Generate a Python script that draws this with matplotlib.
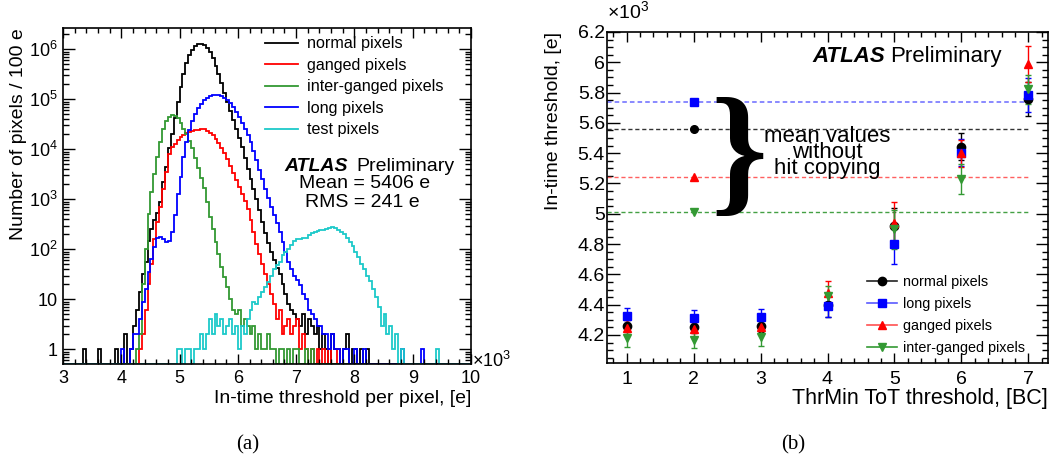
import matplotlib
matplotlib.use("Agg")
import matplotlib.pyplot as plt
import numpy as np
from matplotlib.ticker import MultipleLocator, LogLocator, NullFormatter, FuncFormatter
from matplotlib.lines import Line2D

plt.rcParams['font.family'] = ['Liberation Sans', 'DejaVu Sans']
plt.rcParams['mathtext.default'] = 'regular'

# ---------------- panel (a): threshold distributions, 50 e bins from 3000 to 10000 e
bin_lo, bin_hi, bin_w = 3000, 10000, 50
# one row = 1000 e = 20 bins
normal_counts = (
    [0, 0, 0, 0, 0, 0, 0, 1, 0, 0, 0, 0, 1, 0, 0, 0, 0, 0, 1, 0]
    + [0, 2, 0, 1, 3, 6, 14, 32, 56, 148, 250, 380, 525, 890, 2240, 4470, 10500, 20000, 41700, 89000]
    + [178000, 316000, 525000, 759000, 977000, 1150000, 1260000, 1280000, 1200000, 1070000,
       871000, 661000, 468000, 316000, 209000, 132000, 89000, 59000, 38000, 25100]
    + [16600, 11200, 6600, 3980, 2510, 1580, 1000, 600, 355, 214, 132, 89, 60, 42, 32, 20, 13, 8, 6, 5]
    + [4, 3, 5, 2, 4, 3, 2, 3, 1, 2, 1, 0, 2, 1, 1, 0, 1, 2, 0, 1]
    + [1, 0, 1, 0, 1, 0, 0, 0, 0, 0, 0, 0, 0, 0, 0, 0, 0, 0, 0, 0]
    + [0] * 20
)
ganged_counts = (
    [0] * 20
    + [0, 0, 0, 0, 0, 0, 1, 2, 6, 20, 52, 160, 355, 710, 1580, 3550, 7940, 11200, 12600, 15100]
    + [17800, 19500, 20900, 21900, 22900, 24000, 24500, 25100, 25100, 23400,
       21400, 19000, 16200, 13200, 10500, 8300, 6300, 4700, 3400, 2450]
    + [1740, 1260, 930, 630, 380, 224, 126, 80, 50, 32, 20, 13, 8, 4, 6, 2, 3, 4, 2, 3]
    + [4, 1, 2, 1, 0, 1, 0, 1, 0, 1, 0, 1, 0, 0, 1, 0, 0, 0, 0, 0]
    + [0] * 20
    + [0] * 20
)
inter_counts = (
    [0] * 20
    + [0, 0, 0, 0, 0, 1, 2, 20, 100, 500, 1410, 3160, 7080, 14100, 25100, 37200, 44700, 47900, 46800, 41700]
    + [33100, 25100, 20000, 14800, 10500, 6600, 4170, 2630, 1660, 890, 447, 251, 141, 79, 45, 28, 18, 10, 6, 5]
    + [6, 3, 4, 3, 2, 3, 1, 2, 1, 1, 2, 1, 1, 0, 1, 1, 0, 1, 0, 1]
    + [1, 0, 0, 1, 0, 1, 0, 0, 0, 0, 0, 0, 0, 0, 0, 0, 0, 0, 0, 0]
    + [0] * 20
    + [0] * 20
)
long_counts = (
    [0] * 20
    + [1, 0, 0, 1, 2, 2, 4, 9, 16, 35, 63, 112, 166, 178, 158, 141, 148, 224, 479, 1260]
    + [2820, 7080, 14100, 24000, 36300, 50100, 66100, 79400, 95500, 107000,
       115000, 120000, 123000, 120000, 115000, 107000, 95500, 83000, 69000, 55000]
    + [43600, 33900, 25700, 19000, 14100, 9300, 6000, 3900, 2510, 1620,
       1050, 710, 480, 330, 224, 141, 89, 56, 40, 30]
    + [24, 19, 13, 10, 6, 5, 4, 3, 3, 2, 2, 1, 2, 1, 1, 0, 1, 1, 0, 0]
    + [1, 0, 0, 1, 0, 0, 0, 0, 0, 0, 0, 0, 0, 0, 0, 0, 1, 0, 0, 0]
    + [0, 0, 0, 1, 0, 0, 0, 0, 0, 0, 0, 0, 0, 0, 0, 0, 0, 0, 0, 0]
)
test_counts = (
    [0] * 20
    + [0, 0, 0, 0, 0, 0, 0, 0, 0, 0, 0, 0, 0, 0, 0, 0, 0, 0, 0, 1]
    + [1, 0, 1, 1, 0, 1, 1, 2, 1, 2, 4, 2, 5, 3, 4, 2, 3, 4, 2, 3]
    + [1, 3, 2, 4, 6, 9, 8, 11, 14, 18, 22, 30, 40, 48, 55, 76, 90, 100, 120, 145]
    + [158, 162, 166, 170, 190, 215, 225, 232, 240, 245, 255, 268, 275, 262, 240, 220, 200, 170, 140, 115]
    + [90, 70, 52, 40, 30, 23, 16, 11, 7, 3, 5, 2, 3, 1, 2, 0, 1, 0, 0, 0]
    + [0, 0, 0, 0, 0, 0, 0, 0, 1, 0, 0, 0, 0, 0, 0, 0, 0, 0, 0, 0]
)
hist_series = [
    ("normal pixels", normal_counts, "black"),
    ("ganged pixels", ganged_counts, "#ff0000"),
    ("inter-ganged pixels", inter_counts, "#339933"),
    ("long pixels", long_counts, "#0000ff"),
    ("test pixels", test_counts, "#1cc9c9"),
]
mean_text = "Mean = 5406 e"
rms_text = "RMS = 241 e"

# ---------------- panel (b): in-time threshold vs ThrMin ToT threshold
tot_x = [1, 2, 3, 4, 5, 6, 7]
normal_thr = [4.262, 4.251, 4.260, 4.398, 4.918, 5.444, 5.757]
normal_err = [0.04, 0.04, 0.04, 0.08, 0.12, 0.09, 0.11]
long_thr = [4.326, 4.313, 4.321, 4.394, 4.799, 5.404, 5.785]
long_err = [0.05, 0.05, 0.05, 0.075, 0.13, 0.09, 0.11]
ganged_thr = [4.249, 4.238, 4.255, 4.475, 4.938, 5.400, 5.988]
ganged_err = [0.05, 0.05, 0.05, 0.084, 0.14, 0.09, 0.12]
inter_thr = [4.178, 4.167, 4.185, 4.458, 4.898, 5.230, 5.823]
inter_err = [0.06, 0.055, 0.058, 0.065, 0.13, 0.10, 0.095]
# mean values without hit copying, drawn at ToT = 2
nohc_x = 2
nohc_mean = {"normal": 5.561, "long": 5.735, "ganged": 5.241, "inter": 5.015}

fig = plt.figure(figsize=(10.56, 4.55), dpi=100)
W, H = 1056, 455
ax1 = fig.add_axes([63 / W, 1 - 364 / H, 408 / W, 336 / H])
ax2 = fig.add_axes([607 / W, 1 - 363 / H, 441 / W, 331 / H])

# ---- (a)
y_floor = 0.51
edges = np.arange(bin_lo, bin_hi + bin_w, bin_w) / 1000.0
for name, counts, col in hist_series:
    vals = np.maximum(np.array(counts, dtype=float), y_floor)
    ax1.stairs(vals, edges, baseline=None, color=col, lw=1.3, label=name)

ax1.set_yscale('log')
ax1.set_xlim(3, 10)
ax1.set_ylim(y_floor, 2.67e6)
ax1.set_xticks(range(3, 11))
ax1.xaxis.set_minor_locator(MultipleLocator(0.2))
ax1.set_yticks([1, 10, 1e2, 1e3, 1e4, 1e5, 1e6])
ax1.set_yticklabels(['1', '10', '$10^{2}$', '$10^{3}$', '$10^{4}$', '$10^{5}$', '$10^{6}$'])
ax1.yaxis.set_minor_locator(LogLocator(base=10, subs=np.arange(2, 10), numticks=20))
ax1.yaxis.set_minor_formatter(NullFormatter())
ax1.tick_params(which='both', direction='in', top=True, right=True, labelsize=13, width=1)
ax1.tick_params(axis='x', which='major', length=7, pad=4.5)
ax1.tick_params(axis='x', which='minor', length=3.5)
ax1.tick_params(axis='y', which='major', length=8.5, pad=4)
ax1.tick_params(axis='y', which='minor', length=4.3)
for s in ax1.spines.values():
    s.set_linewidth(1.2)

ax1.set_xlabel('In-time threshold per pixel, [e]', fontsize=14, loc='right')
ax1.xaxis.set_label_coords(1.0, -0.077)
ax1.set_ylabel('Number of pixels / 100 e', fontsize=14, loc='top')
ax1.yaxis.set_label_coords(-0.088, 1.0)
ax1.text(1.0025, -0.009, '×10$^{3}$', transform=ax1.transAxes, fontsize=13,
         ha='left', va='baseline')

ax1.legend(loc='upper left', bbox_to_anchor=(0.495, 0.975), frameon=False, fontsize=11.6,
           handlelength=2.05, handletextpad=0.56, labelspacing=0.4, borderpad=0, borderaxespad=0)

ax1.text(0.6985, 0.575, 'ATLAS', transform=ax1.transAxes, fontsize=14, fontweight='bold',
         fontstyle='italic', ha='right', va='baseline')
ax1.text(0.7199, 0.575, 'Preliminary', transform=ax1.transAxes, fontsize=14,
         ha='left', va='baseline')
ax1.text(0.740, 0.5229, mean_text, transform=ax1.transAxes, fontsize=14, ha='center', va='baseline')
ax1.text(0.733, 0.468, rms_text, transform=ax1.transAxes, fontsize=14, ha='center', va='baseline')

# ---- (b)
x_left, x_right = 0.706, 7.294
ax2.set_xlim(x_left, x_right)
ax2.set_ylim(4.015, 6.2)

line_col = {"normal": "#222222", "long": "#5a5aff", "ganged": "#ff5050", "inter": "#339933"}
ax2.hlines(nohc_mean["long"], x_left, 7, colors="#6a6aff", linestyles=(0, (3, 2)), lw=1.1)
ax2.hlines(nohc_mean["normal"], x_left, 7, colors="#333333", linestyles=(0, (3, 2)), lw=1.0)
ax2.hlines(nohc_mean["ganged"], x_left, 7, colors="#ff6060", linestyles=(0, (3, 2)), lw=1.0)
ax2.hlines(nohc_mean["inter"], x_left, 7, colors="#44a044", linestyles=(0, (3, 2)), lw=1.0)

pts = [
    ("normal pixels", normal_thr, normal_err, 'o', 'black', "normal", 6),
    ("long pixels", long_thr, long_err, 's', '#0000ff', "long", 6),
    ("ganged pixels", ganged_thr, ganged_err, '^', '#ff0000', "ganged", 6),
    ("inter-ganged pixels", inter_thr, inter_err, 'v', '#339933', "inter", 6),
]
handles = []
for name, yv, ye, mk, col, key, ms in pts:
    ax2.errorbar(tot_x, yv, yerr=ye, fmt=mk, color=col, ms=ms, elinewidth=1,
                 capsize=2, capthick=1)
    ax2.plot([nohc_x], [nohc_mean[key]], mk, color=col, ms=ms - 0.5)
    handles.append(Line2D([], [], color=line_col[key], lw=1.2, marker=mk,
                          markerfacecolor=col, markeredgecolor=col, ms=6, label=name))

ax2.set_xticks(tot_x)
ax2.xaxis.set_minor_locator(MultipleLocator(0.2))
ax2.set_yticks(np.round(np.arange(4.2, 6.21, 0.2), 1))
ax2.yaxis.set_major_formatter(FuncFormatter(lambda v, p: f'{v:g}'))
ax2.yaxis.set_minor_locator(MultipleLocator(0.05))
ax2.tick_params(which='both', direction='in', top=True, right=True, labelsize=14, width=1)
ax2.tick_params(axis='x', which='major', length=7, pad=6)
ax2.tick_params(axis='x', which='minor', length=3.5)
ax2.tick_params(axis='y', which='major', length=9, pad=1.5)
ax2.tick_params(axis='y', which='minor', length=4.5)
for s in ax2.spines.values():
    s.set_linewidth(1.2)

ax2.set_xlabel('ThrMin ToT threshold, [BC]', fontsize=15.5, loc='right')
ax2.xaxis.set_label_coords(1.0, -0.0755)
ax2.set_ylabel('In-time threshold, [e]', fontsize=14, loc='top')
ax2.yaxis.set_label_coords(-0.102, 1.0)
ax2.text(0.0, 1.043, '×10$^{3}$', transform=ax2.transAxes, fontsize=14, ha='left', va='baseline')

ax2.legend(handles=handles, loc='upper left', bbox_to_anchor=(0.589, 0.265), frameon=False,
           fontsize=10.4, handlelength=2.08, handletextpad=0.46, labelspacing=0.54,
           borderpad=0, borderaxespad=0)

ax2.text(0.630, 0.9103, 'ATLAS', transform=ax2.transAxes, fontsize=16, fontweight='bold',
         fontstyle='italic', ha='right', va='baseline')
ax2.text(0.642, 0.9103, 'Preliminary', transform=ax2.transAxes, fontsize=16,
         ha='left', va='baseline')

ax2.text(4.0, 5.405, 'mean values\nwithout\nhit copying', fontsize=16, ha='center',
         va='center', multialignment='center', linespacing=0.7)
ax2.text(2.68, 5.34, '}', fontsize=104, family='Liberation Serif', fontweight='bold',
         ha='center', va='center')

fig.text(248 / W, 1 - 445 / H, '(a)', family='Liberation Serif', fontsize=15, ha='center', va='center')
fig.text(793 / W, 1 - 445 / H, '(b)', family='Liberation Serif', fontsize=15, ha='center', va='center')

fig.savefig('out.png', dpi=100)
